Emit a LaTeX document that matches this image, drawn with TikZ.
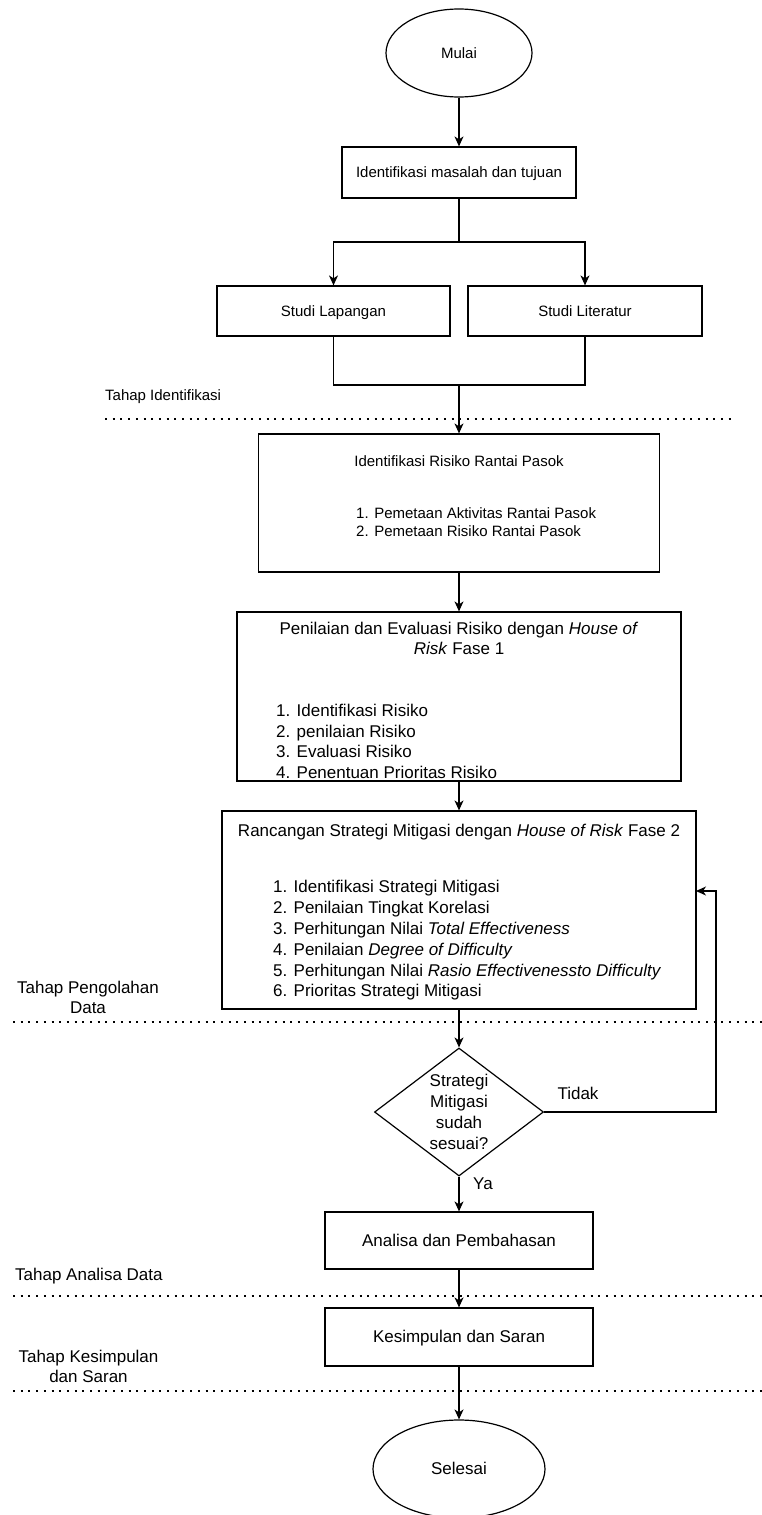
\documentclass[tikz,border=0pt]{standalone}
\usepackage{fontspec}
\setmainfont{Liberation Sans}
\usetikzlibrary{shapes.geometric,arrows.meta,positioning}

\newcommand{\fkecil}{\fontsize{15}{18}\selectfont}
\newcommand{\fbesar}{\fontsize{17}{20.8}\selectfont}

\begin{document}
\begin{tikzpicture}[x=1pt,y=-1pt]
\useasboundingbox (0,0) rectangle (762,1515);

\tikzset{>={Stealth[length=10pt,width=9pt,inset=3pt]}}
\tikzstyle{proses} = [draw, rectangle, line width=1.2pt, inner sep=0pt, fill=white];
\tikzstyle{terminal} = [draw, ellipse, line width=1.2pt, inner sep=0pt];
\tikzstyle{keputusan} = [draw, diamond, aspect=1.32, line width=1.2pt,
	inner sep=0pt, align=center, font=\fbesar];
\tikzstyle{kecil} = [font=\fkecil, text height=13.6pt, text depth=3.2pt];
\tikzstyle{besar} = [font=\fbesar, text height=15.4pt, text depth=3.6pt];
\tikzstyle{garis} = [line width=1.2pt];
\tikzstyle{batas} = [line width=2pt, dash pattern=on 2pt off 5.7pt];
\tikzstyle{tahap} = [align=center, inner sep=0pt];
\tikzstyle{isi} = [anchor=west, align=left, inner sep=0pt];

\draw[batas] (105,419) -- (735,419);
\draw[batas] (13,1022) -- (762,1022);
\draw[batas] (13,1296) -- (762,1296);
\draw[batas] (13,1391) -- (762,1391);

\node[terminal, kecil, minimum width=146pt, minimum height=88pt] (mulai) at (459,53) {Mulai};
\node[proses, kecil, minimum width=234pt, minimum height=51pt] (idm) at (459,172.5) {Identifikasi masalah dan tujuan};
\node[proses, kecil, minimum width=233pt, minimum height=50pt] (lap) at (333.5,311) {Studi Lapangan};
\node[proses, kecil, minimum width=234pt, minimum height=50pt] (lit) at (585,311) {Studi Literatur};

\node[proses, minimum width=401pt, minimum height=138pt] (irp) at (459,503) {};
\node[kecil] (irpJudul) at (459,461) {Identifikasi Risiko Rantai Pasok};
\node[isi, font=\fkecil] (irpIsi) at (356,522) {1. Pemetaan Aktivitas Rantai Pasok\\2. Pemetaan Risiko Rantai Pasok};

\node[proses, minimum width=444pt, minimum height=169pt] (hor1) at (459,696.5) {};
\node[font=\fbesar, align=center] (hor1Judul) at (459,638.5) {Penilaian dan Evaluasi Risiko dengan \textit{House of}\\\textit{Risk} Fase 1};
\node[isi, font=\fbesar] (hor1Isi) at (276,741.5) {1. Identifikasi Risiko\\2. penilaian Risiko\\3. Evaluasi Risiko\\4. Penentuan Prioritas Risiko};

\node[proses, minimum width=474pt, minimum height=198pt] (hor2) at (459,910) {};
\node[besar] (hor2Judul) at (459,831) {Rancangan Strategi Mitigasi dengan \textit{House of Risk} Fase 2};
\node[isi, font=\fbesar] (hor2Isi) at (273,940.5) {1. Identifikasi Strategi Mitigasi\\2. Penilaian Tingkat Korelasi\\3. Perhitungan Nilai \textit{Total Effectiveness}\\4. Penilaian \textit{Degree of Difficulty}\\5. Perhitungan Nilai \textit{Rasio Effectivenessto Difficulty}\\6. Prioritas Strategi Mitigasi};

\node[keputusan, minimum width=169pt, minimum height=128pt] (cek) at (459,1112) {Strategi\\Mitigasi\\sudah\\sesuai?};
\node[proses, besar, minimum width=268pt, minimum height=57pt] (ana) at (459,1240.5) {Analisa dan Pembahasan};
\node[proses, besar, minimum width=268pt, minimum height=58pt] (kes) at (459,1337) {Kesimpulan dan Saran};
\node[terminal, besar, minimum width=172pt, minimum height=98pt] (selesai) at (459,1469) {Selesai};

\node[isi, font=\fkecil] (tahap1) at (105,397) {Tahap Identifikasi};
\node[tahap, font=\fbesar] (tahap2) at (88,997.5) {Tahap Pengolahan\\Data};
\node[isi, font=\fbesar] (tahap3) at (15,1276) {Tahap Analisa Data};
\node[tahap, font=\fbesar] (tahap4) at (88.5,1366.5) {Tahap Kesimpulan\\dan Saran};

\node[besar] (tidak) at (578,1094) {Tidak};
\node[besar] (ya) at (483,1184) {Ya};

\coordinate (cabang) at (459,242);
\coordinate (gabung) at (459,385);
\coordinate (balik) at (716,1112);
\coordinate (masuk) at (696,891);

\draw[garis,->] (mulai) -- (idm);
\draw[garis] (idm) -- (cabang);
\draw[garis,->] (cabang) -| (lap);
\draw[garis,->] (cabang) -| (lit);
\draw[garis] (lap) |- (gabung) -| (lit);
\draw[garis,->] (gabung) -- (irp);
\draw[garis,->] (irp) -- (hor1);
\draw[garis,->] (hor1) -- (hor2);
\draw[garis,->] (hor2) -- (cek);
\draw[garis,->] (cek.east) -- (balik) |- (masuk);
\draw[garis,->] (cek) -- (ana);
\draw[garis,->] (ana) -- (kes);
\draw[garis,->] (kes) -- (selesai);

\end{tikzpicture}
\end{document}
